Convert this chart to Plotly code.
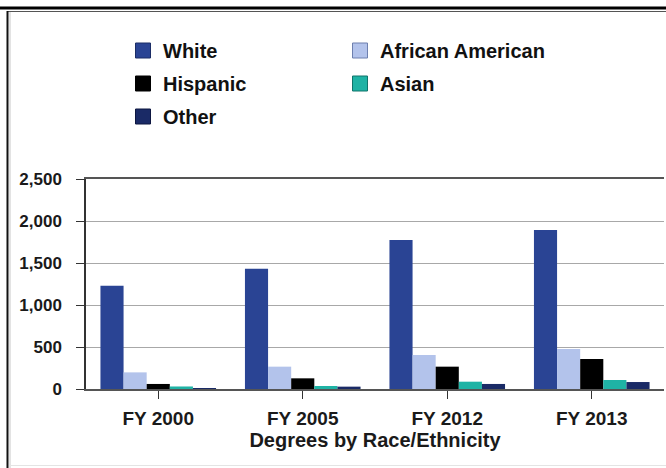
import plotly.graph_objects as go

# Degrees awarded by race/ethnicity, by fiscal year
years = ["FY 2000", "FY 2005", "FY 2012", "FY 2013"]
white = [1228, 1432, 1774, 1893]
african_american = [198, 266, 405, 476]
hispanic = [60, 127, 266, 357]
asian = [30, 36, 87, 107]
other = [3, 28, 60, 83]

series = [
    ("White", white, "#2a4494", "#1b2d66", "legend"),
    ("African American", african_american, "#b3c3eb", "#6d7fae", "legend2"),
    ("Hispanic", hispanic, "#000000", "#000000", "legend"),
    ("Asian", asian, "#1fb3a5", "#10746b", "legend2"),
    ("Other", other, "#1a2a66", "#0d1640", "legend"),
]

W, H = 666, 468
L, R, T, B = 86, 2, 179, 79
PW, PH = W - L - R, H - T - B


def px(x):
    return (x - L) / PW


def py(y):
    return (H - B - y) / PH


FONT = "Liberation Sans, Arial, sans-serif"

fig = go.Figure()

for name, vals, color, edge, leg in series:
    fig.add_trace(go.Bar(
        x=years, y=vals, name=name, marker=dict(color=color, line=dict(width=0)),
        showlegend=False, hovertemplate="%{x}: %{y:,}<extra>" + name + "</extra>",
    ))

# legend keys: square swatches in two columns
for name, vals, color, edge, leg in series:
    fig.add_trace(go.Scatter(
        x=[years[0]], y=[None], name=name, mode="markers", legend=leg,
        legendgroup=name,
        marker=dict(symbol="square", size=15, color=color, line=dict(width=1, color=edge)),
        hoverinfo="skip",
    ))

legend_style = dict(
    orientation="v", xanchor="left", yanchor="top", bgcolor="rgba(0,0,0,0)",
    font=dict(family=FONT, size=20, color="#111111", weight="bold"),
    tracegroupgap=4, itemclick=False, itemdoubleclick=False,
)

shapes = [
    # outer frame
    dict(type="line", xref="paper", yref="paper", x0=px(0), x1=px(W), y0=py(8), y1=py(8),
         line=dict(color="#000000", width=3)),
    dict(type="line", xref="paper", yref="paper", x0=px(7), x1=px(W), y0=py(11.5), y1=py(11.5),
         line=dict(color="#555555", width=1)),
    dict(type="line", xref="paper", yref="paper", x0=px(7.5), x1=px(7.5), y0=py(11), y1=py(H),
         line=dict(color="#111111", width=2)),
    dict(type="line", xref="paper", yref="paper", x0=px(10), x1=px(10), y0=py(12), y1=py(H),
         line=dict(color="#c8c8c8", width=1)),
    dict(type="line", xref="paper", yref="paper", x0=px(10), x1=px(W), y0=py(465.5), y1=py(465.5),
         line=dict(color="#e4e4e4", width=1)),
]

fig.update_layout(
    width=W, height=H,
    margin=dict(l=L, r=R, t=T, b=B, pad=0),
    paper_bgcolor="#ffffff", plot_bgcolor="#ffffff",
    barmode="group", bargap=0.2, bargroupgap=0,
    font=dict(family=FONT, color="#1a1a1a"),
    legend=dict(x=px(123), y=py(31), **legend_style),
    legend2=dict(x=px(340), y=py(31), **legend_style),
    shapes=shapes,
    xaxis=dict(
        type="category", showline=True, linecolor="#555555", linewidth=1.5, mirror=True,
        ticks="outside", ticklen=8, tickcolor="#333333", tickwidth=1,
        tickfont=dict(family=FONT, size=19, color="#1a1a1a", weight="bold"),
        ticklabelstandoff=3,
        title=dict(text="Degrees by Race/Ethnicity", standoff=2,
                   font=dict(family=FONT, size=20, color="#1a1a1a", weight="bold")),
        showgrid=False, zeroline=False,
    ),
    yaxis=dict(
        range=[0, 2500], dtick=500, tickformat=",", showline=True, linecolor="#333333",
        linewidth=1.5, ticks="outside", ticklen=8, tickcolor="#333333",
        tickfont=dict(family=FONT, size=17, color="#1a1a1a", weight="bold"),
        ticklabelstandoff=11,
        showgrid=True, gridcolor="#a8a8a8", gridwidth=1, zeroline=False,
    ),
)

fig.write_html("out.html")
